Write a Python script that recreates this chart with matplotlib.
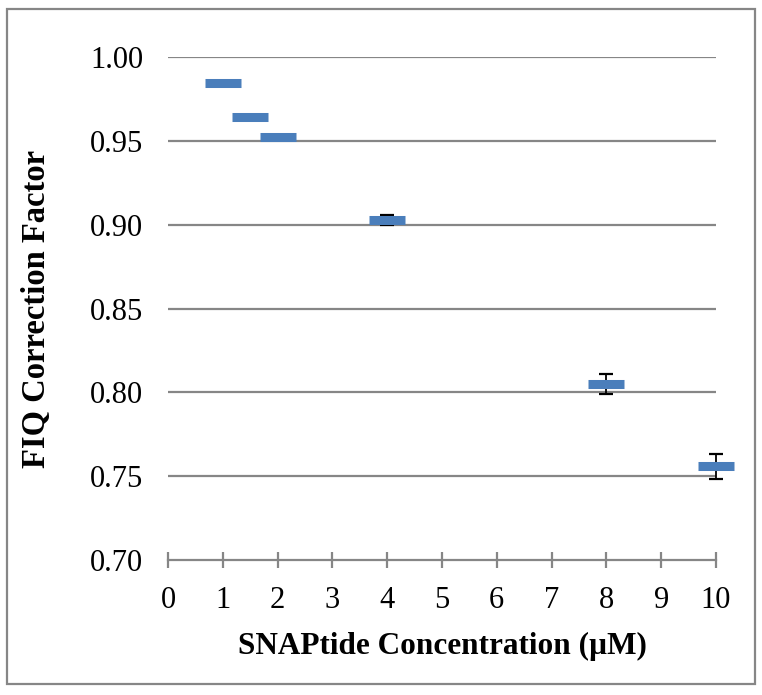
import matplotlib
matplotlib.use("Agg")
import matplotlib.pyplot as plt
from matplotlib.patches import Rectangle

conc = [1, 1.5, 2, 4, 8, 10]
factor = [0.9845, 0.964, 0.952, 0.9028, 0.805, 0.756]
err = [0.0005, 0.0005, 0.0005, 0.003, 0.006, 0.0075]
xticks = list(range(0, 11))
yticks = [0.70, 0.75, 0.80, 0.85, 0.90, 0.95, 1.00]

plt.rcParams['font.family'] = ['Liberation Serif', 'DejaVu Serif']
fig = plt.figure(figsize=(7.62, 6.95), dpi=100)
ax = fig.add_axes([0.2205, 0.1942, 0.7191, 0.7238])

grid_c = '#868686'
for yv in yticks[1:]:
    ax.axhline(yv, color=grid_c, lw=1.6, zorder=1)

ax.errorbar(conc, factor, yerr=err, fmt='none', ecolor='black', elinewidth=1.3,
            capsize=5, capthick=1.6, zorder=2, clip_on=False)
ax.plot(conc, factor, linestyle='none', marker='_', ms=26, mew=6.5,
        color='#4A7EBB', zorder=3, clip_on=False)

ax.set_xlim(0, 10)
ax.set_ylim(0.70, 1.00)
ax.set_xticks(xticks)
ax.set_yticks(yticks)
ax.set_yticklabels([f"{v:.2f}" for v in yticks])
for s in ['top', 'right', 'left']:
    ax.spines[s].set_visible(False)
ax.spines['bottom'].set_color(grid_c)
ax.spines['bottom'].set_linewidth(1.6)
ax.tick_params(axis='x', direction='inout', length=12, width=1.6, color=grid_c,
               labelsize=22, pad=13)
ax.tick_params(axis='y', length=0, labelsize=22, pad=18)
ax.set_xlabel('SNAPtide Concentration (µM)', fontsize=22.5, fontweight='bold', labelpad=12)
ax.set_ylabel('FIQ Correction Factor', fontsize=23.5, fontweight='bold', labelpad=27)

fig.patches.append(Rectangle((7/762, 1-684/695), 748/762, 675/695, transform=fig.transFigure,
                             fill=False, edgecolor=grid_c, lw=1.6))
fig.savefig('out.png', dpi=100)
